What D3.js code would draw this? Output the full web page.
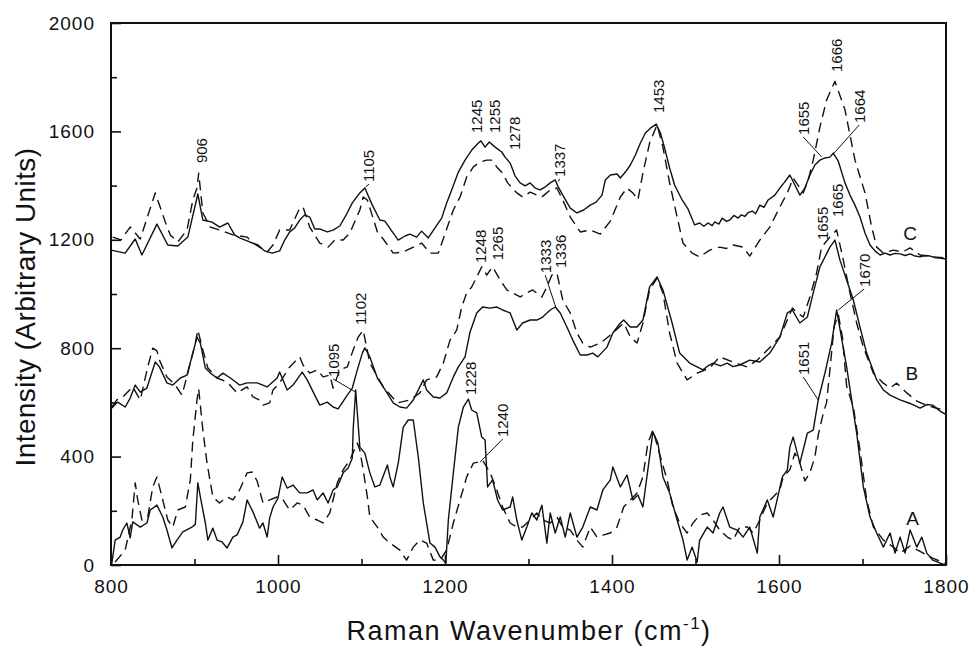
<!DOCTYPE html>
<html>
<head>
<meta charset="utf-8">
<script src="https://cdn.jsdelivr.net/npm/d3@7"></script>
<style>
  body { margin: 0; background: #fff; }
  svg { display: block; }
  text { font-family: "Liberation Sans", Arial, Helvetica, sans-serif; fill: #111; }
</style>
</head>
<body>
<svg id="chart" width="970" height="648"></svg>
<script>
/* tick values */
var xMajorTicks = [800, 1000, 1200, 1400, 1600, 1800];
var xMinorTicks = [900, 1100, 1300, 1500, 1700];
var yMajorTicks = [0, 400, 800, 1200, 1600, 2000];
var yMinorTicks = [200, 600, 1000, 1400, 1800];

/* spectra, [wavenumber, intensity] */
var cSolid = [[800,1162],[817,1151],[829,1203],[837,1144],[855,1258],[868,1181],[880,1177],[892,1210],[904,1369],[910,1273],[921,1265],[930,1247],[940,1262],[948,1218],[954,1207],[966,1192],[976,1181],[984,1159],[993,1151],[1002,1159],[1008,1199],[1014,1229],[1020,1244],[1026,1273],[1032,1292],[1038,1284],[1044,1240],[1050,1240],[1059,1229],[1066,1236],[1074,1251],[1081,1288],[1089,1336],[1098,1373],[1104,1391],[1113,1328],[1122,1273],[1128,1269],[1137,1229],[1144,1199],[1152,1214],[1158,1221],[1166,1210],[1172,1232],[1180,1207],[1188,1244],[1196,1280],[1202,1336],[1208,1384],[1216,1450],[1224,1494],[1232,1531],[1240,1557],[1243,1565],[1248,1542],[1253,1561],[1260,1542],[1268,1524],[1272,1505],[1278,1483],[1284,1435],[1290,1410],[1296,1399],[1302,1410],[1308,1391],[1314,1384],[1320,1395],[1326,1410],[1332,1421],[1335,1399],[1341,1365],[1350,1317],[1358,1299],[1366,1310],[1374,1328],[1381,1339],[1388,1365],[1392,1421],[1398,1439],[1406,1443],[1410,1428],[1416,1450],[1422,1476],[1428,1513],[1434,1557],[1440,1594],[1446,1612],[1453,1627],[1458,1594],[1463,1539],[1469,1465],[1475,1402],[1484,1347],[1491,1314],[1499,1255],[1505,1262],[1510,1250],[1515,1262],[1520,1252],[1523,1266],[1528,1258],[1532,1280],[1537,1268],[1541,1273],[1546,1290],[1551,1280],[1555,1292],[1559,1286],[1563,1300],[1568,1306],[1572,1296],[1577,1328],[1582,1320],[1587,1347],[1595,1365],[1601,1391],[1606,1410],[1613,1439],[1619,1402],[1625,1365],[1631,1391],[1637,1439],[1643,1476],[1649,1494],[1655,1502],[1661,1505],[1665,1520],[1671,1490],[1679,1410],[1685,1365],[1691,1328],[1697,1284],[1703,1225],[1709,1181],[1715,1159],[1721,1144],[1727,1151],[1733,1144],[1739,1150],[1745,1148],[1751,1142],[1757,1148],[1763,1140],[1769,1137],[1775,1142],[1781,1140],[1787,1134],[1793,1133],[1800,1129]];

var cDashed = [[802,1210],[812,1200],[823,1247],[835,1203],[853,1373],[865,1266],[871,1218],[880,1192],[891,1236],[898,1347],[903,1391],[905,1446],[910,1299],[919,1247],[930,1236],[946,1218],[963,1210],[970,1188],[987,1155],[994,1181],[1002,1236],[1014,1236],[1026,1317],[1030,1321],[1038,1247],[1050,1188],[1060,1173],[1068,1199],[1078,1199],[1086,1225],[1098,1310],[1102,1358],[1107,1347],[1119,1229],[1126,1203],[1138,1151],[1150,1155],[1162,1173],[1172,1188],[1182,1151],[1192,1151],[1202,1240],[1210,1310],[1218,1358],[1226,1432],[1234,1469],[1242,1487],[1250,1494],[1256,1494],[1262,1469],[1269,1446],[1275,1410],[1286,1373],[1293,1358],[1302,1376],[1310,1365],[1316,1358],[1326,1384],[1334,1391],[1341,1347],[1350,1284],[1362,1229],[1374,1236],[1386,1221],[1398,1269],[1410,1358],[1418,1391],[1425,1373],[1431,1347],[1437,1446],[1445,1557],[1454,1624],[1461,1542],[1469,1410],[1478,1284],[1485,1188],[1496,1151],[1505,1137],[1517,1162],[1529,1173],[1537,1168],[1545,1181],[1557,1173],[1565,1140],[1577,1199],[1589,1247],[1601,1321],[1610,1373],[1617,1428],[1629,1373],[1635,1420],[1641,1494],[1649,1616],[1657,1716],[1667,1785],[1679,1680],[1691,1494],[1703,1373],[1711,1247],[1717,1173],[1725,1151],[1737,1162],[1748,1155],[1757,1170],[1769,1144],[1784,1137],[1800,1133]];

var bSolid = [[801,579],[808,601],[817,583],[823,616],[829,664],[835,638],[843,653],[853,749],[858,731],[867,672],[874,664],[883,690],[891,701],[898,782],[903,841],[907,819],[913,727],[919,708],[927,690],[934,708],[943,690],[954,664],[963,672],[975,672],[987,657],[999,690],[1002,712],[1011,646],[1018,664],[1029,712],[1035,683],[1044,627],[1050,590],[1059,601],[1066,583],[1072,576],[1083,627],[1089,653],[1095,720],[1101,782],[1104,801],[1110,768],[1119,690],[1126,657],[1138,598],[1146,583],[1154,579],[1162,609],[1174,683],[1178,646],[1186,620],[1194,616],[1202,635],[1210,694],[1216,731],[1224,768],[1230,860],[1238,930],[1245,952],[1254,948],[1262,952],[1269,941],[1278,930],[1286,867],[1293,893],[1302,904],[1310,904],[1317,915],[1326,941],[1332,952],[1338,930],[1346,878],[1353,830],[1362,775],[1370,775],[1377,782],[1383,768],[1394,804],[1401,856],[1410,893],[1414,904],[1422,878],[1430,878],[1437,904],[1445,1026],[1454,1063],[1461,1015],[1472,893],[1481,782],[1493,745],[1509,720],[1515,735],[1521,745],[1530,735],[1538,745],[1545,732],[1553,738],[1565,756],[1577,749],[1589,782],[1601,841],[1610,930],[1616,941],[1625,893],[1634,915],[1641,1004],[1649,1100],[1661,1173],[1667,1199],[1673,1125],[1681,1052],[1689,978],[1697,878],[1705,782],[1717,683],[1725,646],[1733,627],[1745,609],[1757,596],[1769,579],[1777,592],[1784,590],[1792,570],[1800,555]];

var bDashed = [[801,583],[807,609],[814,620],[826,657],[835,609],[844,731],[850,800],[855,790],[858,756],[867,694],[877,664],[885,627],[892,708],[901,819],[904,867],[910,793],[916,727],[927,690],[939,675],[951,635],[963,657],[970,620],[978,609],[982,590],[990,598],[994,646],[1002,672],[1014,731],[1026,768],[1030,738],[1038,708],[1047,720],[1054,694],[1062,701],[1066,653],[1074,720],[1083,731],[1090,793],[1096,841],[1102,867],[1110,745],[1126,657],[1143,598],[1158,609],[1170,635],[1178,683],[1190,694],[1198,745],[1206,830],[1214,867],[1220,952],[1226,1004],[1232,1026],[1238,1063],[1244,1100],[1250,1070],[1257,1100],[1266,1052],[1274,1015],[1281,1004],[1290,989],[1298,1004],[1305,1015],[1316,989],[1322,1026],[1328,1070],[1334,1077],[1341,978],[1350,930],[1358,856],[1365,819],[1374,804],[1386,819],[1401,856],[1414,893],[1422,841],[1430,819],[1437,893],[1445,1015],[1454,1059],[1461,1004],[1469,856],[1478,745],[1490,683],[1502,708],[1517,727],[1529,768],[1545,749],[1562,731],[1574,756],[1586,793],[1601,841],[1610,904],[1616,948],[1622,930],[1629,915],[1637,989],[1645,1077],[1651,1173],[1661,1210],[1669,1236],[1676,1140],[1685,1004],[1693,893],[1701,804],[1713,708],[1725,671],[1733,653],[1741,671],[1753,635],[1765,605],[1776,590],[1784,583],[1796,572]];

var aSolid = [[801,7],[805,92],[811,103],[814,129],[819,155],[823,100],[826,159],[835,140],[843,155],[847,203],[855,221],[862,177],[867,129],[873,63],[879,92],[886,122],[897,140],[901,150],[904,303],[907,251],[913,155],[916,92],[922,136],[927,92],[933,85],[939,63],[946,103],[951,111],[958,159],[963,240],[970,196],[978,136],[982,155],[987,103],[990,173],[994,214],[1000,247],[1005,325],[1011,284],[1018,295],[1026,266],[1035,266],[1042,277],[1047,240],[1054,266],[1060,229],[1066,277],[1071,288],[1078,340],[1084,358],[1089,395],[1090,498],[1093,646],[1098,435],[1104,413],[1110,340],[1116,288],[1122,295],[1131,369],[1134,325],[1138,288],[1144,376],[1150,509],[1156,535],[1162,535],[1168,399],[1174,229],[1182,81],[1188,66],[1194,30],[1198,18],[1201,7],[1204,166],[1210,340],[1216,509],[1222,583],[1228,612],[1232,572],[1238,561],[1244,472],[1248,461],[1251,288],[1257,314],[1263,240],[1269,203],[1278,214],[1281,251],[1286,166],[1292,92],[1298,140],[1304,192],[1310,166],[1316,221],[1322,81],[1326,192],[1332,118],[1338,177],[1344,103],[1350,192],[1358,103],[1365,140],[1374,214],[1382,203],[1389,277],[1398,314],[1401,362],[1410,288],[1418,332],[1425,240],[1431,258],[1437,214],[1445,399],[1449,491],[1455,450],[1461,325],[1469,266],[1478,166],[1485,92],[1490,18],[1496,66],[1502,11],[1505,92],[1514,140],[1521,118],[1529,192],[1533,214],[1541,140],[1550,129],[1557,103],[1565,140],[1574,44],[1577,177],[1586,240],[1593,177],[1604,325],[1610,351],[1613,435],[1617,472],[1625,376],[1634,487],[1641,498],[1647,609],[1655,708],[1663,819],[1669,941],[1681,731],[1693,487],[1701,288],[1709,177],[1717,118],[1725,66],[1733,118],[1739,44],[1745,103],[1751,44],[1757,129],[1765,66],[1771,103],[1777,44],[1784,18],[1793,7],[1800,0]];

var aDashed = [[805,11],[817,55],[825,166],[829,303],[832,240],[837,166],[844,177],[850,288],[855,325],[862,240],[868,166],[874,140],[880,203],[889,214],[895,314],[898,461],[903,609],[905,650],[910,498],[915,376],[922,251],[930,229],[939,251],[946,240],[954,277],[963,340],[969,343],[975,310],[982,229],[990,240],[999,251],[1006,240],[1014,203],[1023,229],[1030,221],[1038,177],[1047,166],[1054,155],[1062,192],[1071,303],[1078,351],[1086,387],[1095,450],[1098,424],[1102,351],[1107,251],[1110,177],[1119,140],[1126,103],[1134,81],[1146,55],[1154,18],[1162,66],[1170,92],[1178,81],[1186,18],[1194,18],[1202,55],[1210,155],[1218,240],[1226,325],[1234,376],[1240,380],[1245,387],[1254,340],[1262,277],[1269,214],[1278,155],[1286,140],[1293,140],[1302,166],[1310,192],[1317,166],[1326,155],[1334,177],[1341,140],[1350,129],[1358,92],[1365,66],[1374,140],[1382,103],[1389,110],[1398,118],[1406,140],[1414,214],[1422,240],[1430,266],[1437,325],[1443,450],[1449,498],[1458,399],[1466,314],[1473,214],[1481,155],[1490,118],[1497,155],[1505,184],[1514,192],[1521,166],[1529,129],[1538,103],[1545,92],[1553,140],[1562,140],[1569,118],[1577,166],[1586,229],[1593,251],[1601,277],[1605,325],[1613,351],[1619,413],[1625,376],[1631,310],[1637,340],[1643,399],[1647,480],[1653,560],[1657,600],[1661,720],[1666,880],[1671,925],[1676,840],[1681,660],[1689,583],[1697,424],[1705,240],[1713,140],[1725,92],[1737,66],[1745,44],[1757,70],[1769,50],[1784,25],[1800,5]];

/* peak labels: text, label wavenumber, label intensity, leader tip */
var peakLabels = [
    ['906', 909, 1483, null, null],
    ['1105', 1109, 1413, 1105, 1395],
    ['1245', 1238, 1594, null, null],
    ['1255', 1259, 1594, null, null],
    ['1278', 1283, 1531, null, null],
    ['1337', 1337, 1432, 1336, 1415],
    ['1453', 1456, 1668, null, null],
    ['1655', 1629, 1587, 1651, 1506],
    ['1666', 1669, 1819, null, null],
    ['1664', 1696, 1631, 1666, 1520],
    ['1248', 1243, 1114, null, null],
    ['1265', 1263, 1125, null, null],
    ['1333', 1320, 1077, 1333, 948],
    ['1336', 1338, 1096, null, null],
    ['1655', 1652, 1199, null, null],
    ['1665', 1670, 1284, null, null],
    ['1670', 1702, 1026, 1671, 941],
    ['1095', 1066, 694, 1093, 638],
    ['1102', 1099, 886, null, null],
    ['1228', 1231, 627, null, null],
    ['1240', 1269, 472, 1242, 380],
    ['1651', 1629, 701, 1647, 609]
];

var curveLetters = [['C', 1757, 1225], ['B', 1759, 708], ['A', 1760, 173]];

var margin = { top: 23, right: 24, bottom: 83, left: 111 };
var width = 970 - margin.left - margin.right;
var height = 648 - margin.top - margin.bottom;

var svg = d3.select('#chart');
var g = svg.append('g')
    .attr('transform', 'translate(' + margin.left + ',' + margin.top + ')');

var x = d3.scaleLinear().domain([800, 1800]).range([0, width]);
var y = d3.scaleLinear().domain([0, 2000]).range([height, 0]);

g.append('clipPath').attr('id', 'plot-clip')
    .append('rect').attr('width', width).attr('height', height);

var line = d3.line()
    .x(function(d) { return x(d[0]); })
    .y(function(d) { return y(d[1]); });

/* spectra */
var series = [
    { data: cSolid, dash: null },
    { data: cDashed, dash: '10,6' },
    { data: bSolid, dash: null },
    { data: bDashed, dash: '10,6' },
    { data: aSolid, dash: null },
    { data: aDashed, dash: '10,6' }
];

g.append('g').attr('clip-path', 'url(#plot-clip)')
    .selectAll('path')
    .data(series)
    .enter()
    .append('path')
    .attr('d', function(d) { return line(d.data); })
    .attr('fill', 'none')
    .attr('stroke', '#111')
    .attr('stroke-width', 1.4)
    .attr('stroke-linejoin', 'round')
    .attr('stroke-dasharray', function(d) { return d.dash; });

/* axes, ticks point inward */
function styleAxis(sel, fontSize) {
    sel.select('.domain').remove();
    sel.selectAll('line').attr('stroke', '#111').attr('stroke-width', 1.6);
    sel.selectAll('text')
        .attr('font-size', fontSize)
        .attr('letter-spacing', '1px')
        .attr('fill', '#111');
}

g.append('g')
    .attr('transform', 'translate(0,' + height + ')')
    .call(d3.axisBottom(x).tickValues(xMajorTicks).tickSize(-10).tickPadding(15).tickFormat(d3.format('d')))
    .call(styleAxis, 19);

g.append('g')
    .attr('transform', 'translate(0,' + height + ')')
    .call(d3.axisBottom(x).tickValues(xMinorTicks).tickSize(-6).tickFormat(''))
    .call(styleAxis, 19);

g.append('g')
    .call(d3.axisLeft(y).tickValues(yMajorTicks).tickSize(-10).tickPadding(16).tickFormat(d3.format('d')))
    .call(styleAxis, 19);

g.append('g')
    .call(d3.axisLeft(y).tickValues(yMinorTicks).tickSize(-6).tickFormat(''))
    .call(styleAxis, 19);

/* frame */
g.append('rect')
    .attr('width', width)
    .attr('height', height)
    .attr('fill', 'none')
    .attr('stroke', '#111')
    .attr('stroke-width', 2);

/* peak labels with leader lines */
var ann = g.append('g');

ann.selectAll('line')
    .data(peakLabels.filter(function(d) { return d[3] !== null; }))
    .enter()
    .append('line')
    .attr('x1', function(d) { return x(d[1]); })
    .attr('y1', function(d) { return y(d[2]) + 2; })
    .attr('x2', function(d) { return x(d[3]); })
    .attr('y2', function(d) { return y(d[4]); })
    .attr('stroke', '#111')
    .attr('stroke-width', 1);

ann.selectAll('text')
    .data(peakLabels)
    .enter()
    .append('text')
    .attr('transform', function(d) {
        return 'translate(' + x(d[1]) + ',' + y(d[2]) + ') rotate(-90)';
    })
    .attr('dy', '0.36em')
    .attr('font-size', 15)
    .text(function(d) { return d[0]; });

g.append('g').selectAll('text')
    .data(curveLetters)
    .enter()
    .append('text')
    .attr('x', function(d) { return x(d[1]); })
    .attr('y', function(d) { return y(d[2]); })
    .attr('dy', '0.36em')
    .attr('text-anchor', 'middle')
    .attr('font-size', 19)
    .text(function(d) { return d[0]; });

/* axis titles */
var xTitle = svg.append('text')
    .attr('x', 529)
    .attr('y', 640)
    .attr('text-anchor', 'middle')
    .attr('font-size', 27)
    .attr('letter-spacing', '1.5px');
xTitle.append('tspan').text('Raman Wavenumber (cm');
xTitle.append('tspan').attr('font-size', 17).attr('dy', -11).text('-1');
xTitle.append('tspan').attr('dy', 11).text(')');

svg.append('text')
    .attr('transform', 'translate(35,307) rotate(-90)')
    .attr('text-anchor', 'middle')
    .attr('font-size', 28)
    .attr('letter-spacing', '0.4px')
    .text('Intensity (Arbitrary Units)');
</script>
</body>
</html>
